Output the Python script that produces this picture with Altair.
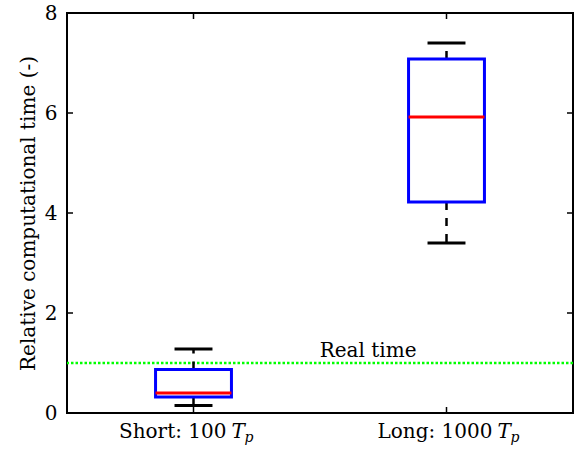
import altair as alt
import pandas as pd

# ---- data ----
categories = ["Short", "Long"]
positions = [1, 2]
label_main = ["Short: 100", "Long: 1000"]
whisker_low = [0.15, 3.40]
q1 = [0.32, 4.22]
median = [0.40, 5.92]
q3 = [0.87, 7.08]
whisker_high = [1.28, 7.40]
y_ticks = [0, 2, 4, 6, 8]
real_time = [1.0]
real_time_x = [1.69]
real_time_label = ["Real time"]

W, H = 506, 400
FONT = "DejaVu Serif"
FS = 20

df = pd.DataFrame(dict(cat=categories, pos=positions, main=label_main,
                       wlo=whisker_low, q1=q1, med=median, q3=q3, whi=whisker_high))
ydf = pd.DataFrame({"v": y_ticks})
xdf = pd.DataFrame({"pos": positions})
rtdf = pd.DataFrame({"y": real_time, "x": real_time_x, "t": real_time_label})

xscale = alt.Scale(domain=[0.5, 2.5], nice=False, zero=False)
yscale = alt.Scale(domain=[0, 8], nice=False, zero=False)

yaxis = alt.Axis(values=y_ticks, title="Relative computational time (-)", domain=False,
                 ticks=False, grid=False, labelFont=FONT, labelFontSize=FS,
                 labelColor="black", labelPadding=10, labelFlush=False,
                 titleFont=FONT, titleFontSize=FS, titleFontWeight="normal",
                 titleColor="black", titlePadding=6)

base = alt.Chart(df).transform_calculate(
    x0="datum.pos - 0.15", x1="datum.pos + 0.15",
    c0="datum.pos - 0.075", c1="datum.pos + 0.075")

green = alt.Chart(rtdf).mark_rule(color="#00ff00", strokeWidth=2.5, strokeDash=[2.5, 2]).encode(
    y=alt.Y("y:Q", scale=yscale, axis=yaxis))

rt_text = alt.Chart(rtdf).mark_text(font=FONT, fontSize=FS, color="black",
                                    baseline="alphabetic", dy=-6).encode(
    x=alt.X("x:Q", scale=xscale, axis=None), y=alt.Y("y:Q", scale=yscale), text="t:N")

whisk_up = base.mark_rule(color="black", strokeWidth=2.5, strokeDash=[8, 8]).encode(
    x=alt.X("pos:Q", scale=xscale, axis=None), y=alt.Y("q3:Q", scale=yscale), y2="whi:Q")
whisk_dn = base.mark_rule(color="black", strokeWidth=2.5, strokeDash=[8, 8]).encode(
    x=alt.X("pos:Q", scale=xscale, axis=None), y=alt.Y("q1:Q", scale=yscale), y2="wlo:Q")
cap_up = base.mark_rule(color="black", strokeWidth=3).encode(
    x=alt.X("c0:Q", scale=xscale, axis=None), x2="c1:Q", y=alt.Y("whi:Q", scale=yscale))
cap_dn = base.mark_rule(color="black", strokeWidth=3).encode(
    x=alt.X("c0:Q", scale=xscale, axis=None), x2="c1:Q", y=alt.Y("wlo:Q", scale=yscale))
box = base.mark_rect(fill="white", stroke="#0000ff", strokeWidth=3).encode(
    x=alt.X("x0:Q", scale=xscale, axis=None), x2="x1:Q",
    y=alt.Y("q1:Q", scale=yscale), y2="q3:Q")
med = base.mark_rule(color="#ff0000", strokeWidth=3).encode(
    x=alt.X("x0:Q", scale=xscale, axis=None), x2="x1:Q", y=alt.Y("med:Q", scale=yscale))

# inward ticks
tick_l = alt.Chart(ydf).mark_rule(color="black", strokeWidth=1.5).encode(
    y=alt.Y("v:Q", scale=yscale), x=alt.value(0), x2=alt.value(6))
tick_r = alt.Chart(ydf).mark_rule(color="black", strokeWidth=1.5).encode(
    y=alt.Y("v:Q", scale=yscale), x=alt.value(W - 6), x2=alt.value(W))
tick_b = alt.Chart(xdf).mark_rule(color="black", strokeWidth=1.5).encode(
    x=alt.X("pos:Q", scale=xscale, axis=None), y=alt.value(H - 6), y2=alt.value(H))
tick_t = alt.Chart(xdf).mark_rule(color="black", strokeWidth=1.5).encode(
    x=alt.X("pos:Q", scale=xscale, axis=None), y=alt.value(0), y2=alt.value(6))

# category labels with italic T and subscript p
label_offsets = [(33, 38, 51), (46, 51, 64)]
labels = []
for i, (dm, dt, dp) in enumerate(label_offsets):
    row = df.iloc[[i]]
    c = alt.Chart(row)
    labels.append(c.mark_text(font=FONT, fontSize=FS, color="black", align="right",
                              baseline="alphabetic", dx=dm).encode(
        x=alt.X("pos:Q", scale=xscale, axis=None), y=alt.value(425), text="main:N"))
    labels.append(c.mark_text(font=FONT, fontSize=FS, fontStyle="italic", color="black",
                              align="left", baseline="alphabetic", dx=dt, text="T").encode(
        x=alt.X("pos:Q", scale=xscale, axis=None), y=alt.value(425)))
    labels.append(c.mark_text(font=FONT, fontSize=14, fontStyle="italic", color="black",
                              align="left", baseline="alphabetic", dx=dp, dy=4, text="p").encode(
        x=alt.X("pos:Q", scale=xscale, axis=None), y=alt.value(425)))

chart = alt.layer(green, rt_text, whisk_up, whisk_dn, cap_up, cap_dn, box, med,
                  tick_l, tick_r, tick_b, tick_t, *labels).properties(
    width=W, height=H, autosize=alt.AutoSizeParams(type="none"),
    padding={"left": 67, "top": 13, "right": 12, "bottom": 41},
    background="white",
).configure_view(stroke="black", strokeWidth=2)

chart.save("out.html", embed_options={"renderer": "svg", "actions": False})
